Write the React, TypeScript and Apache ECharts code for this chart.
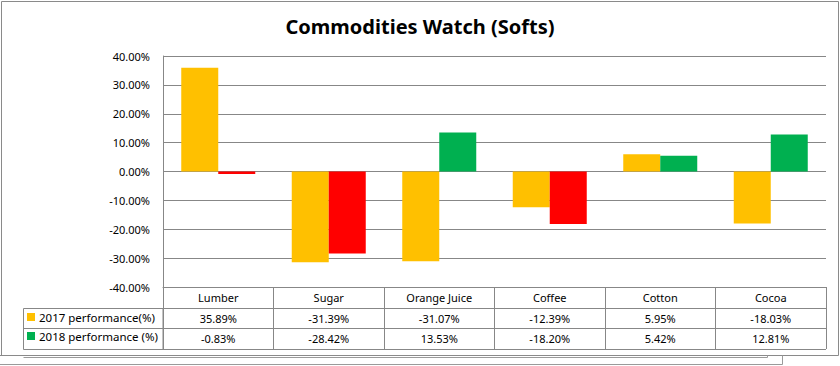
import React, { useEffect, useRef } from "react";
import * as echarts from "echarts";

const categories = ["Lumber", "Sugar", "Orange Juice", "Coffee", "Cotton", "Cocoa"];
const perf2017 = [35.89, -31.39, -31.07, -12.39, 5.95, -18.03];
const perf2018 = [-0.83, -28.42, 13.53, -18.2, 5.42, 12.81];
const seriesNames = ["2017 performance(%)", "2018 performance (%)"];
const yMin = -40;
const yMax = 40;
const yInterval = 10;

const GRID = "#878787";
const FONT = "Noto Sans";
const C2017 = "#FFC000";
const C2018 = "#00B050";
const CNEG = "#FF0000";

const fmt = (v: number) => v.toFixed(2) + "%";

export default function App() {
  const ref = useRef<HTMLDivElement>(null);
  useEffect(() => {
    const chart = echarts.init(ref.current!, null, { renderer: "svg" });
    const tableAxis = (offset: number, data: string[]) => ({
      type: "category",
      position: "bottom",
      offset,
      data,
      axisLine: { show: true, onZero: false, lineStyle: { color: GRID, width: 1 } },
      axisTick: { show: false },
      axisLabel: {
        interval: 0,
        margin: 10,
        verticalAlign: "middle",
        fontSize: 11,
        fontFamily: FONT,
        color: "#000",
      },
    });
    chart.setOption({
      animation: false,
      backgroundColor: "#fff",
      textStyle: { fontFamily: FONT },
      title: {
        text: "Commodities Watch (Softs)",
        left: "center",
        top: 11,
        textStyle: { fontSize: 20, fontWeight: "bold", fontFamily: FONT, color: "#000" },
      },
      legend: {
        orient: "vertical",
        left: 27,
        top: 311,
        padding: 0,
        itemWidth: 8,
        itemHeight: 8,
        itemGap: 7,
        icon: "rect",
        data: seriesNames,
        textStyle: { fontSize: 11.5, fontFamily: FONT, color: "#000", padding: [0, 0, 0, -1] },
      },
      grid: { left: 163, right: 14, top: 56, height: 231, containLabel: false },
      xAxis: [
        {
          type: "category",
          position: "bottom",
          data: categories,
          axisLine: { show: true, onZero: false, lineStyle: { color: GRID, width: 1 } },
          axisTick: { show: true, interval: 0, length: 62, alignWithLabel: false, lineStyle: { color: GRID } },
          axisLabel: {
            interval: 0,
            margin: 10,
            verticalAlign: "middle",
            fontSize: 11,
            fontFamily: FONT,
            color: "#000",
          },
        },
        tableAxis(21, perf2017.map(fmt)),
        tableAxis(41, perf2018.map(fmt)),
      ],
      yAxis: {
        type: "value",
        min: yMin,
        max: yMax,
        interval: yInterval,
        axisLine: { show: true, lineStyle: { color: GRID } },
        axisTick: { show: false },
        splitLine: { show: true, lineStyle: { color: GRID, width: 1 } },
        axisLabel: {
          margin: 13,
          fontSize: 11,
          fontFamily: FONT,
          color: "#000",
          formatter: (v: number) => fmt(v),
        },
      },
      series: [
        {
          name: seriesNames[0],
          type: "bar",
          xAxisIndex: 0,
          data: perf2017,
          barWidth: 37,
          barGap: "0%",
          itemStyle: { color: C2017 },
        },
        {
          name: seriesNames[1],
          type: "bar",
          xAxisIndex: 0,
          data: perf2018.map((v) => ({ value: v, itemStyle: { color: v < 0 ? CNEG : C2018 } })),
          barWidth: 37,
          barGap: "0%",
          itemStyle: { color: C2018 },
        },
      ],
      graphic: [
        {
          type: "rect",
          shape: { x: 23.5, y: 308.5, width: 139.5, height: 41 },
          style: { fill: "none", stroke: GRID, lineWidth: 1 },
          silent: true,
        },
        {
          type: "line",
          shape: { x1: 23.5, y1: 328.5, x2: 163, y2: 328.5 },
          style: { stroke: GRID, lineWidth: 1 },
        },
        {
          type: "line",
          shape: { x1: 163, y1: 349.5, x2: 826, y2: 349.5 },
          style: { stroke: GRID, lineWidth: 1 },
        },
        {
          type: "polyline",
          shape: { points: [[1.5, 355.5], [1.5, 1.5], [838.5, 1.5], [838.5, 355.5], [0, 355.5]] },
          style: { fill: "none", stroke: "#8a8a8a", lineWidth: 1 },
        },
        {
          type: "polyline",
          shape: { points: [[23.5, 357.5], [767.5, 357.5], [767.5, 355.5]] },
          style: { fill: "none", stroke: "#9a9a9a", lineWidth: 1 },
        },
        {
          type: "polyline",
          shape: { points: [[0, 364.5], [782.5, 364.5], [782.5, 355.5]] },
          style: { fill: "none", stroke: "#9a9a9a", lineWidth: 1 },
        },
      ],
    });
    return () => chart.dispose();
  }, []);
  return (
    <div
      ref={ref}
      style={{ position: "fixed", left: 0, top: 0, width: 840, height: 366, background: "#fff" }}
    />
  );
}
